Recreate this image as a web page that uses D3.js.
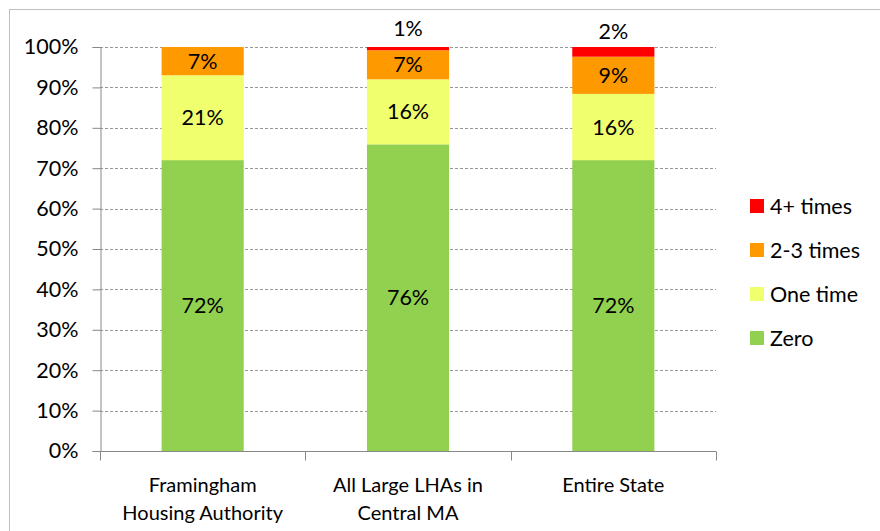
<!DOCTYPE html>
<html>
<head>
<meta charset="utf-8">
<script src="https://cdn.jsdelivr.net/npm/d3@7"></script>
<style>
  body { margin: 0; background: #fff; }
  svg { font-family: Lato, "Open Sans", sans-serif; }
</style>
</head>
<body>
<div id="chart"></div>
<script>
// categories (two line labels)
var categories = ["Framingham Housing Authority", "All Large LHAs in Central MA", "Entire State"];
var catLines = [["Framingham", "Housing Authority"], ["All Large LHAs in", "Central MA"], ["Entire State"]];

// shares per category
var zero      = [0.720, 0.759, 0.720];
var oneTime   = [0.210, 0.161, 0.164];
var twoThree  = [0.070, 0.072, 0.092];
var fourPlus  = [0.000, 0.008, 0.024];

var seriesNames = ["Zero", "One time", "2-3 times", "4+ times"];
var seriesColors = ["#92D050", "#F0FF6E", "#FF9900", "#FF0000"];

var yTicks = [0, 0.1, 0.2, 0.3, 0.4, 0.5, 0.6, 0.7, 0.8, 0.9, 1];

// build rows for d3.stack
var rows = categories.map(function(c, i) {
  return { cat: c, "Zero": zero[i], "One time": oneTime[i], "2-3 times": twoThree[i], "4+ times": fourPlus[i] };
});

var W = 880, H = 531;
var margin = {top: 47, left: 100, right: 164, bottom: 80};
var width = W - margin.left - margin.right,
    height = H - margin.top - margin.bottom;

var fs = 21.5;

var svg = d3.select("#chart").append("svg")
  .attr("width", W)
  .attr("height", H);

// outer chart border
svg.append("rect")
  .attr("x", 9.5).attr("y", 9.5)
  .attr("width", W + 20).attr("height", H + 20)
  .attr("fill", "none")
  .attr("stroke", "#BFBFBF");

var plot = svg.append("g")
  .attr("transform", "translate(" + margin.left + "," + margin.top + ")");

var x = d3.scaleBand()
  .domain(categories)
  .range([0, width])
  .paddingInner(0.6)
  .paddingOuter(0.3);

var y = d3.scaleLinear()
  .domain([0, 1])
  .range([height, 0]);

var color = d3.scaleOrdinal().domain(seriesNames).range(seriesColors);

// gridlines
plot.selectAll(".grid")
  .data(yTicks.slice(1))
  .enter().append("line")
  .attr("class", "grid")
  .attr("x1", 0).attr("x2", width)
  .attr("y1", function(d) { return Math.round(y(d)) + 0.5; })
  .attr("y2", function(d) { return Math.round(y(d)) + 0.5; })
  .attr("stroke", "#999")
  .attr("stroke-dasharray", "3,2");

// stacked bars
var stacked = d3.stack().keys(seriesNames)(rows);

var layer = plot.selectAll(".layer")
  .data(stacked)
  .enter().append("g")
  .attr("class", "layer")
  .attr("fill", function(d) { return color(d.key); });

layer.selectAll("rect")
  .data(function(d) { return d; })
  .enter().append("rect")
  .attr("x", function(d) { return x(d.data.cat); })
  .attr("width", x.bandwidth())
  .attr("y", function(d) { return y(d[1]); })
  .attr("height", function(d) { return y(d[0]) - y(d[1]); });

// value labels
var pct = d3.format(".0%");
stacked.forEach(function(s) {
  s.forEach(function(d) {
    var v = d[1] - d[0];
    if (v <= 0) return;
    var cx = x(d.data.cat) + x.bandwidth() / 2;
    var cy;
    if (s.key == "4+ times") {
      // small segment, label sits above the bar
      cy = y(1) - 20 + v * 200;
    } else {
      cy = (y(d[0]) + y(d[1])) / 2;
    }
    plot.append("text")
      .attr("x", cx)
      .attr("y", cy)
      .attr("dy", "0.35em")
      .attr("text-anchor", "middle")
      .attr("font-size", fs)
      .attr("fill", "#000")
      .text(pct(v));
  });
});

// y axis
var yAxis = d3.axisLeft(y)
  .tickValues(yTicks)
  .tickFormat(d3.format(".0%"))
  .tickSize(8)
  .tickPadding(14);

var gy = plot.append("g").attr("transform", "translate(0.5,0)").call(yAxis);
gy.select(".domain").attr("stroke", "#888");
gy.selectAll(".tick line").attr("stroke", "#888");
gy.selectAll(".tick text").attr("font-size", fs).attr("font-family", "Lato, sans-serif").attr("fill", "#000");

// x axis line + ticks between categories
var gx = plot.append("g").attr("transform", "translate(0," + (height + 0.5) + ")");
gx.append("line")
  .attr("x1", 0).attr("x2", width)
  .attr("stroke", "#888");
var step = x.step();
var bounds = d3.range(categories.length + 1).map(function(i) { return x(categories[0]) - x.paddingOuter() * step + step * i; });
gx.selectAll(".xtick")
  .data(bounds)
  .enter().append("line")
  .attr("x1", function(d) { return Math.round(d) + 0.5; })
  .attr("x2", function(d) { return Math.round(d) + 0.5; })
  .attr("y1", 0).attr("y2", 9)
  .attr("stroke", "#888");

// category labels
catLines.forEach(function(lines, i) {
  var t = gx.append("text")
    .attr("text-anchor", "middle")
    .attr("font-size", 20)
    .attr("fill", "#000");
  lines.forEach(function(l, j) {
    t.append("tspan")
      .attr("x", x(categories[i]) + x.bandwidth() / 2)
      .attr("y", 40 + j * 28)
      .text(l);
  });
});

// legend, top entry is 4+ times
var legendItems = seriesNames.slice().reverse();
var legend = svg.selectAll(".legend")
  .data(legendItems)
  .enter().append("g")
  .attr("class", "legend")
  .attr("transform", function(d, i) { return "translate(750," + (206 + i * 44) + ")"; });

legend.append("rect")
  .attr("x", 0).attr("y", -7)
  .attr("width", 14).attr("height", 14)
  .attr("fill", function(d) { return color(d); });

legend.append("text")
  .attr("x", 20)
  .attr("dy", "0.35em")
  .attr("font-size", fs)
  .text(function(d) { return d; });
</script>
</body>
</html>
